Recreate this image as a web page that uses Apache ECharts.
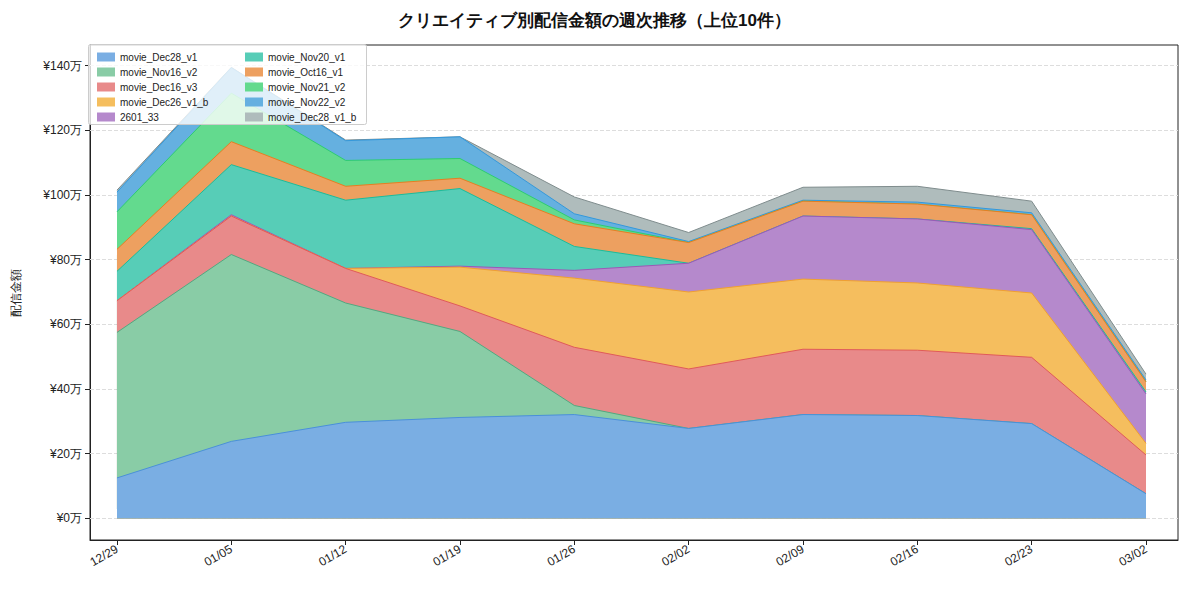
<!DOCTYPE html>
<html>
<head>
<meta charset="utf-8">
<script src="https://cdn.jsdelivr.net/npm/echarts@6/dist/echarts.min.js"></script>
<style>
  html, body { margin: 0; padding: 0; background: #fff; }
  #chart { width: 1189px; height: 590px; }
</style>
</head>
<body>
<div id="chart"></div>
<script>
(function() {
  var weeks = ['12/29', '01/05', '01/12', '01/19', '01/26', '02/02', '02/09', '02/16', '02/23', '03/02'];

  // weekly amount per creative, in 万円 (fill = colour at ~70% over white)
  var creatives = [
    { name: 'movie_Dec28_v1',   line: '#4a90d9', fill: '#7aaee3', data: [12.5, 23.8, 29.7, 31.2, 32.1, 27.8, 32.1, 31.8, 29.3, 7.6] },
    { name: 'movie_Nov16_v2',   line: '#52a880', fill: '#89cca6', data: [45.0, 57.8, 36.9, 26.6, 2.8, 0, 0, 0, 0, 0] },
    { name: 'movie_Dec16_v3',   line: '#e05a5a', fill: '#e88a8a', data: [9.8, 11.9, 10.7, 7.9, 18.0, 18.4, 20.2, 20.2, 20.5, 12.0] },
    { name: 'movie_Dec26_v1_b', line: '#f0a030', fill: '#f5be5e', data: [0, 0, 0, 12.0, 21.4, 23.8, 21.7, 20.8, 19.9, 3.6] },
    { name: '2601_33',          line: '#9b59b6', fill: '#b589cc', data: [0, 0.4, 0, 0.3, 2.4, 8.9, 19.5, 19.8, 19.6, 15.3] },
    { name: 'movie_Nov20_v1',   line: '#1abc9c', fill: '#57cdb7', data: [9.1, 15.5, 21.1, 24.0, 7.4, 0, 0, 0, 0.3, 0.6] },
    { name: 'movie_Oct16_v1',   line: '#e67e22', fill: '#eda060', data: [6.8, 7.1, 4.3, 3.2, 7.0, 6.4, 4.6, 4.6, 4.3, 3.1] },
    { name: 'movie_Nov21_v2',   line: '#2ecc71', fill: '#63da8e', data: [11.6, 15.0, 8.0, 6.1, 1.2, 0, 0, 0, 0, 0] },
    { name: 'movie_Nov22_v2',   line: '#3498db', fill: '#65b0e0', data: [6.1, 7.9, 6.1, 6.7, 1.9, 0.3, 0.3, 0.6, 0.6, 0.6] },
    { name: 'movie_Dec28_v1_b', line: '#7f8c8d', fill: '#afbcbc', data: [0.6, 0.1, 0.2, 0, 5.2, 2.8, 4.0, 4.9, 3.6, 1.8] }
  ];

  // running totals, each area drawn down to zero, upper layers drawn first
  var running = weeks.map(function() { return 0; });
  var series = creatives.map(function(c, k) {
    running = running.map(function(s, i) { return s + c.data[i]; });
    return {
      name: c.name,
      type: 'line',
      showSymbol: false,
      z: 2 + k * 0.01,
      zlevel: 0,
      itemStyle: { color: c.fill },
      lineStyle: { color: c.line, width: 1 },
      areaStyle: { color: c.fill, opacity: 1 },
      data: running.map(function(v, i) { return [i, +v.toFixed(2)]; })
    };
  });
  // reverse draw order so lower layers sit on top
  series.forEach(function(s, k) { s.z = 20 - k; });

  var legendBase = {
    orient: 'vertical',
    top: 47,
    z: 30,
    itemWidth: 18,
    itemHeight: 9,
    itemGap: 5,
    textStyle: { fontSize: 10, color: '#222' },
    icon: 'rect'
  };

  var ticks = [0, 20, 40, 60, 80, 100, 120, 140];

  var chart = echarts.init(document.getElementById('chart'), null, { renderer: 'svg' });
  chart.setOption({
    animation: false,
    title: {
      text: 'クリエイティブ別配信金額の週次推移（上位10件）',
      left: 'center',
      top: 7,
      textStyle: { fontSize: 17, fontWeight: 'bold', color: '#111' }
    },
    graphic: [{
      type: 'rect',
      left: 88, top: 44,
      shape: { width: 278, height: 80, r: 2 },
      style: { fill: 'rgba(255,255,255,0.8)', stroke: '#ccc' },
      z: 25
    }],
    legend: [
      Object.assign({}, legendBase, { left: 92, data: creatives.slice(0, 5).map(function(c) { return c.name; }) }),
      Object.assign({}, legendBase, { left: 240, data: creatives.slice(5).map(function(c) { return c.name; }) })
    ],
    grid: { left: 90, right: 11, top: 45, bottom: 50, show: true, borderColor: '#222', borderWidth: 1 },
    xAxis: {
      type: 'value',
      min: -0.236,
      max: 9.28,
      splitLine: { show: false },
      axisLine: { onZero: false, lineStyle: { color: '#222' } },
      axisTick: { customValues: [0, 1, 2, 3, 4, 5, 6, 7, 8, 9], lineStyle: { color: '#222' } },
      axisLabel: {
        customValues: [0, 1, 2, 3, 4, 5, 6, 7, 8, 9],
        rotate: 30,
        color: '#222',
        fontSize: 12,
        formatter: function(v) { return weeks[Math.round(v)]; }
      }
    },
    yAxis: {
      type: 'value',
      name: '配信金額',
      nameLocation: 'middle',
      nameGap: 68,
      nameTextStyle: { fontSize: 12, color: '#222' },
      min: -6.7,
      max: 146.4,
      axisLine: { show: true, onZero: false, lineStyle: { color: '#222' } },
      axisTick: { show: true, customValues: ticks, lineStyle: { color: '#222' } },
      splitLine: { show: false },
      axisLabel: {
        customValues: ticks,
        color: '#222',
        fontSize: 12,
        formatter: function(v) { return '¥' + Math.round(v) + '万'; }
      }
    },
    series: series.concat([{
      type: 'line',
      silent: true,
      data: [],
      z: 1,
      markLine: {
        symbol: 'none',
        silent: true,
        label: { show: false },
        lineStyle: { color: '#ddd', type: 'dashed', width: 1 },
        data: ticks.map(function(v) { return { yAxis: v }; })
      }
    }])
  });
})();
</script>
</body>
</html>
